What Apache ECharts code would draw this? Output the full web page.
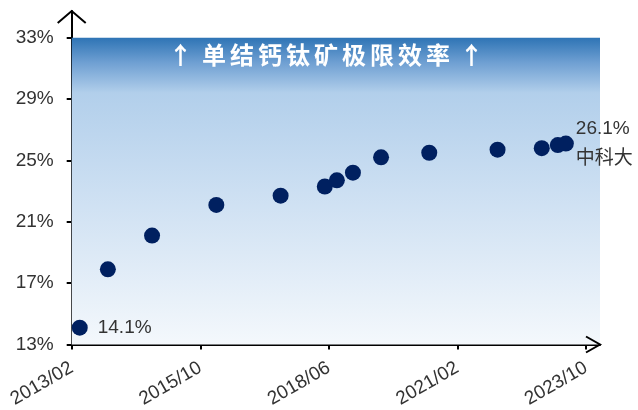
<!DOCTYPE html>
<html><head><meta charset="utf-8">
<script src="https://cdn.jsdelivr.net/npm/echarts@6/dist/echarts.min.js"></script>
<style>html,body{margin:0;padding:0;background:#fff}#c{width:638px;height:410px}</style>
</head><body><div id="c"></div>
<script>
// ---- data ----
const dates = ['2013-04','2013-11','2014-10','2016-02','2017-06','2018-05','2018-08','2018-12','2019-07','2020-07','2021-12','2022-11','2023-03','2023-05'];
const efficiency = [14.1,17.9,20.1,22.1,22.7,23.3,23.7,24.2,25.2,25.5,25.7,25.8,26.0,26.1];
const yTicks = [13,17,21,25,29,33];
const xTickLabels = ['2013/02','2015/10','2018/06','2021/02','2023/10'];
const titleText = '↑ 单结钙钛矿极限效率 ↑';
const lastNote = '中科大';
const limitTop = 33;

// ---- helpers ----
const BASE_Y = 2013, BASE_M = 2;
function monthOffset(s){ const p = s.split(/[-\/]/).map(Number); return (p[0]-BASE_Y)*12 + (p[1]-BASE_M); }
function offsetToLabel(v){ const t = BASE_M-1+Math.round(v); const y = BASE_Y+Math.floor(t/12); const m = t%12+1; return y+'/'+String(m).padStart(2,'0'); }
const xTickValues = xTickLabels.map(monthOffset);
const X_MAX = 131.5, Y_MAX = 34.74;
const FONT = '"Liberation Sans", Arial, "Noto Sans CJK SC", sans-serif';
const richTitle = Array.from(titleText).map(c => c === ' ' ? ' ' : '{c|' + c + '}').join('');

const points = dates.map((d,i)=>{
  const item = { value: [monthOffset(d), efficiency[i]] };
  if (i === 0) item.label = { show:true, position:'right', distance:10, formatter: efficiency[i].toFixed(1)+'%' };
  if (i === dates.length-1) item.label = { show:true, position:'right', distance:2, lineHeight:30, formatter: efficiency[i].toFixed(1)+'%\n'+lastNote };
  return item;
});

const chart = echarts.init(document.getElementById('c'));
chart.setOption({
  animation:false,
  grid:{ left:71.7, right:38, top:11, bottom:65.5, containLabel:false, outerBoundsMode:'none' },
  xAxis:{
    type:'value', min:0, max:X_MAX, splitLine:{show:false},
    axisLine:{ show:true, lineStyle:{color:'#000', width:2} },
    axisTick:{ show:true, customValues:xTickValues, length:5, lineStyle:{color:'#000', width:2} },
    axisLabel:{ customValues:xTickValues, formatter: offsetToLabel, rotate:30, margin:22, fontSize:19, color:'#333', fontFamily:FONT }
  },
  yAxis:{
    type:'value', min:13, max:Y_MAX, splitLine:{show:false},
    axisLine:{ show:true, lineStyle:{color:'#000', width:2} },
    axisTick:{ show:true, customValues:yTicks, length:5, lineStyle:{color:'#000', width:2} },
    axisLabel:{ customValues:yTicks, formatter:'{value}%', margin:18, fontSize:19, color:'#333', fontFamily:FONT }
  },
  series:[
    { type:'scatter', data:[], z:1, silent:true,
      markArea:{ silent:true, data:[[{coord:[0,13]},{coord:[X_MAX,limitTop]}]],
        itemStyle:{ color:new echarts.graphic.LinearGradient(0,0,0,1,[
          {offset:0,color:'#2E74B5'},{offset:0.08,color:'#6E9FD2'},{offset:0.18,color:'#B2CFEB'},{offset:0.5,color:'#CCDFF2'},{offset:1,color:'#F4F8FC'}]) } } },
    { type:'scatter', data:points, z:5, symbolSize:16, itemStyle:{color:'#002060', opacity:1},
      label:{ color:'#333', fontSize:19, fontFamily:FONT } }
  ]
});

// axis arrow heads (open chevrons) placed at the axis ends via the chart's own scales
const xEnd = chart.convertToPixel({gridIndex:0}, [X_MAX, 13]);
const yEnd = chart.convertToPixel({gridIndex:0}, [0, Y_MAX]);
chart.setOption({
  graphic:[
    { type:'polyline', z:50, silent:true,
      shape:{ points:[[xEnd[0]-14, xEnd[1]-8],[xEnd[0], xEnd[1]],[xEnd[0]-14, xEnd[1]+8]] },
      style:{ stroke:'#000', lineWidth:2, fill:null } },
    { type:'polyline', z:50, silent:true,
      shape:{ points:[[yEnd[0]-14, yEnd[1]+12],[yEnd[0], yEnd[1]],[yEnd[0]+14, yEnd[1]+12]] },
      style:{ stroke:'#000', lineWidth:2, fill:null } },
    { type:'text', x:326, y:55, z:100, silent:true,
      style:{ text:richTitle, textAlign:'center', textVerticalAlign:'middle', fill:'#fff', fontSize:24, fontWeight:'bold', fontFamily:'"Noto Sans CJK SC", sans-serif',
        rich:{ c:{ fill:'#fff', fontSize:24, fontWeight:'bold', fontFamily:'"Noto Sans CJK SC", sans-serif', padding:[0,2,0,2] } } } }
  ]
});
</script></body></html>
